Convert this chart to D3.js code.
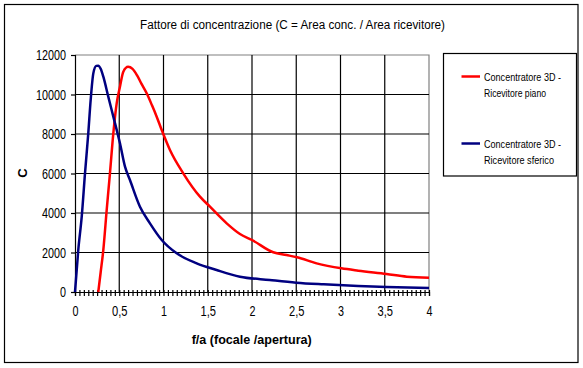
<!DOCTYPE html>
<html>
<head>
<meta charset="utf-8">
<script src="https://cdn.jsdelivr.net/npm/d3@7"></script>
<style>
  html, body { margin: 0; padding: 0; background: #fff; }
  svg { display: block; }
  .narrow { font-family: "Liberation Sans", Arial, sans-serif; }
  .bold { font-family: "Liberation Sans", Arial, sans-serif; font-weight: bold; }
</style>
</head>
<body>
<svg id="chart" width="583" height="368"></svg>
<script>
// ---- Data ----
const title = "Fattore di concentrazione (C = Area conc. / Area ricevitore)";
const xTitle = "f/a  (focale /apertura)";
const yTitle = "C";

const seriesNames = ["Concentratore 3D -\nRicevitore piano", "Concentratore 3D -\nRicevitore sferico"];

const pianoX = [0.263, 0.29, 0.32, 0.358, 0.395, 0.433, 0.471, 0.508, 0.546, 0.6, 0.65, 0.7, 0.75, 0.81, 0.87, 0.923, 0.98, 1.073, 1.223, 1.412, 1.525, 1.714, 1.864, 2.0, 2.24, 2.39, 2.51, 2.73, 3.01, 3.2, 3.52, 3.75, 4.0];
const pianoC = [0, 1000, 2127, 4150, 6010, 8035, 9554, 10395, 11155, 11400, 11300, 10980, 10550, 10060, 9450, 8877, 8200, 7190, 6010, 4826, 4320, 3478, 2937, 2633, 2010, 1873, 1757, 1451, 1198, 1080, 911, 776, 726];

const sfericoX = [0, 0.037, 0.076, 0.113, 0.15, 0.177, 0.207, 0.24, 0.263, 0.29, 0.32, 0.376, 0.433, 0.508, 0.565, 0.621, 0.734, 0.847, 0.98, 1.149, 1.375, 1.6, 1.864, 2.2, 2.5, 2.81, 3.2, 3.52, 4.0];
const sfericoC = [0, 2127, 3815, 6010, 8035, 9722, 11070, 11450, 11460, 11300, 10900, 9890, 8877, 7528, 6345, 5671, 4320, 3478, 2633, 1959, 1453, 1114, 776, 608, 473, 388, 304, 253, 203];

const xTicks = [0, 0.5, 1, 1.5, 2, 2.5, 3, 3.5, 4];
const xTickLabels = ["0", "0,5", "1", "1,5", "2", "2,5", "3", "3,5", "4"];
const yTicks = [0, 2000, 4000, 6000, 8000, 10000, 12000];
const yTickLabels = ["0", "2000", "4000", "6000", "8000", "10000", "12000"];
const xMinorStep = 0.05;

const colors = ["#FF0000", "#000080"];

// ---- Drawing ----
const svg = d3.select("#chart");
const x = d3.scaleLinear().domain([0, 4]).range([75, 429]);
const y = d3.scaleLinear().domain([0, 12000]).range([292, 55]);

// width of a narrow label (digits ~6px, comma ~3px)
const labelWidth = s => s.split("").reduce((a, c) => a + (c === "," ? 3.5 : 6), 0);

// outer frame
svg.append("rect").attr("x", 4.5).attr("y", 4.5).attr("width", 573.5).attr("height", 358)
  .attr("fill", "#fff").attr("stroke", "#000").attr("stroke-width", 1.2);

// title
svg.append("text").attr("class", "narrow").attr("x", 292.5).attr("y", 29)
  .attr("text-anchor", "middle").attr("font-size", 12)
  .attr("textLength", 305).attr("lengthAdjust", "spacingAndGlyphs")
  .text(title);

// plot area border (gray top/right)
svg.append("path")
  .attr("d", `M${x(0)},${y(12000)}H${x(4)}V${y(0)}`)
  .attr("fill", "none").attr("stroke", "#808080").attr("stroke-width", 1.2);

// horizontal gridlines
svg.append("g").selectAll("line").data(yTicks.filter(d => d > 0 && d < 12000)).join("line")
  .attr("x1", x(0)).attr("x2", x(4)).attr("y1", d => y(d)).attr("y2", d => y(d))
  .attr("stroke", "#000").attr("stroke-width", 1.2);
// vertical gridlines
svg.append("g").selectAll("line").data(xTicks.filter(d => d > 0 && d < 4)).join("line")
  .attr("x1", d => x(d)).attr("x2", d => x(d)).attr("y1", y(12000)).attr("y2", y(0))
  .attr("stroke", "#000").attr("stroke-width", 1.2);

// y axis
const yAxis = d3.axisLeft(y).tickValues(yTicks).tickSize(4).tickPadding(5)
  .tickFormat((d, i) => yTickLabels[i]);
const gy = svg.append("g").attr("transform", `translate(${x(0)},0)`).call(yAxis);
gy.select(".domain").attr("stroke", "#000").attr("stroke-width", 1.2);
gy.selectAll(".tick line").attr("stroke", "#000").attr("stroke-width", 1.2);
gy.selectAll(".tick text").attr("class", "narrow").attr("font-size", 14.5).attr("fill", "#000")
  .attr("textLength", (d, i) => labelWidth(yTickLabels[i])).attr("lengthAdjust", "spacingAndGlyphs");

// x axis: minor ticks crossing axis
const minorTicks = d3.range(0, 4 + 1e-9, xMinorStep);
const xAxisMinor = d3.axisBottom(x).tickValues(minorTicks).tickSize(4).tickFormat("");
const gxm = svg.append("g").attr("transform", `translate(0,${y(0)})`).call(xAxisMinor);
gxm.select(".domain").attr("stroke", "#000").attr("stroke-width", 1.2);
gxm.selectAll(".tick line").attr("y1", -2).attr("stroke", "#000").attr("stroke-width", 1.2);

const xAxis = d3.axisBottom(x).tickValues(xTicks).tickSize(0).tickPadding(14)
  .tickFormat((d, i) => xTickLabels[i]);
const gx = svg.append("g").attr("transform", `translate(0,${y(0)})`).call(xAxis);
gx.select(".domain").remove();
gx.selectAll(".tick text").attr("class", "narrow").attr("font-size", 14.5).attr("fill", "#000")
  .attr("textLength", (d, i) => labelWidth(xTickLabels[i])).attr("lengthAdjust", "spacingAndGlyphs");

// axis titles
svg.append("text").attr("class", "bold").attr("x", 251.7).attr("y", 344)
  .attr("text-anchor", "middle").attr("font-size", 12)
  .attr("textLength", 120).attr("lengthAdjust", "spacingAndGlyphs")
  .text(xTitle);
svg.append("text").attr("class", "bold")
  .attr("transform", `translate(27,173) rotate(-90)`)
  .attr("text-anchor", "middle").attr("font-size", 13)
  .text(yTitle);

// series lines
const line = d3.line().x(d => x(d[0])).y(d => y(d[1])).curve(d3.curveMonotoneX);
const series = [
  d3.zip(pianoX, pianoC),
  d3.zip(sfericoX, sfericoC)
];
svg.append("g").selectAll("path").data(series).join("path")
  .attr("d", line)
  .attr("fill", "none")
  .attr("stroke", (d, i) => colors[i])
  .attr("stroke-width", 2.5)
  .attr("stroke-linejoin", "round");

// legend
const leg = svg.append("g");
leg.append("rect").attr("x", 443.5).attr("y", 53.5).attr("width", 133).attr("height", 122.5)
  .attr("fill", "#fff").attr("stroke", "#000").attr("stroke-width", 1.2);
const legY = [76.5, 143.5];
const legWidths = [[77, 62], [77, 70]];
seriesNames.forEach((name, i) => {
  leg.append("line").attr("x1", 461.5).attr("x2", 480).attr("y1", legY[i]).attr("y2", legY[i])
    .attr("stroke", colors[i]).attr("stroke-width", 2.5);
  const lines = name.split("\n");
  lines.forEach((t, j) => {
    leg.append("text").attr("class", "narrow").attr("x", 484).attr("y", legY[i] + 4 + j * 16.5)
      .attr("font-size", 10.5).attr("fill", "#000")
      .attr("textLength", legWidths[i][j]).attr("lengthAdjust", "spacingAndGlyphs")
      .text(t);
  });
});
</script>
</body>
</html>
